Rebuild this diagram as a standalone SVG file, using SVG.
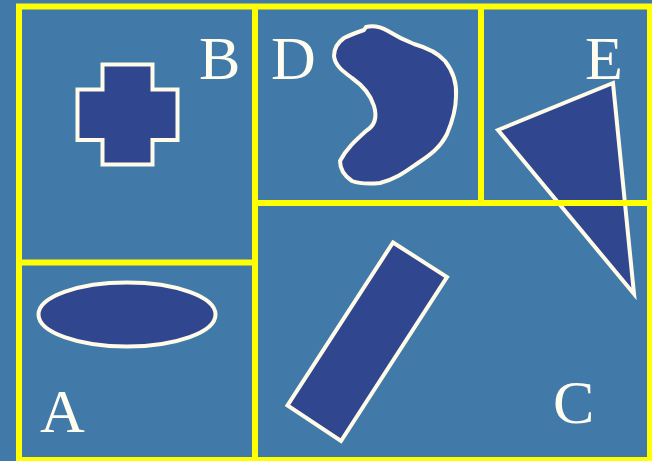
<svg xmlns="http://www.w3.org/2000/svg" width="652" height="461" viewBox="0 0 652 461">
<style>
.shape{fill:#30478f;stroke:#fffbe8;stroke-width:4;stroke-linejoin:miter}
.blob{fill:#30478f;stroke:#fffbe8;stroke-width:4;stroke-linejoin:round}
.grid{fill:none;stroke:#ffff00;stroke-width:6}
.lbl{font-family:"Liberation Serif","Times New Roman",serif;font-size:62px;fill:#fffdf0}
</style>
<rect width="652" height="461" fill="#417aa8"/>
<g id="shapes">
<g id="cross"><path class="shape" d="M102.5,64.5 H152.5 V89.5 H177.5 V140 H152.5 V164.5 H102.5 V140 H77.5 V89.5 H102.5 Z"/></g>
<g id="ellipse"><ellipse class="shape" cx="127" cy="314.5" rx="88.5" ry="32"/></g>
<g id="rectC"><polygon class="shape" points="393,242.5 447,277 341,441 287.5,405.5"/></g>
<g id="triangle"><polygon class="shape" points="498,130 613,83 634,294"/></g>
<g id="blob"><path class="blob" d="M366,27 L364,30 C358,32 350,35 344,38 C337,43 334,48 334,56 C335,66 344,72 352,78 C362,85 370,93 374,106 C377,116 376,125 366,131 C356,140 346,149 340,161 C340,170 346,177 352,181 C360,184 370,184 380,183 C396,179 405,172 418,163 C430,155 440,148 447,134 C453,120 456,110 456,96 C457,82 452,70 445,61 C438,53 428,48 414,44 C404,40 396,36 388,31 C381,27 374,25 366,27 Z"/></g>
</g>
<g id="connectors">
<rect class="grid" x="19" y="6.5" width="631" height="453.5"/>
<line class="grid" x1="255" y1="6.5" x2="255" y2="460"/>
<line class="grid" x1="19" y1="262.5" x2="255" y2="262.5"/>
<line class="grid" x1="255" y1="203" x2="650" y2="203"/>
<line class="grid" x1="481" y1="6.5" x2="481" y2="203"/>
</g>
<g id="labels">
<text class="lbl" x="199" y="79">B</text>
<text class="lbl" x="271" y="79">D</text>
<text class="lbl" x="585" y="79">E</text>
<text class="lbl" x="40" y="432">A</text>
<text class="lbl" x="553" y="423">C</text>
</g>
</svg>
